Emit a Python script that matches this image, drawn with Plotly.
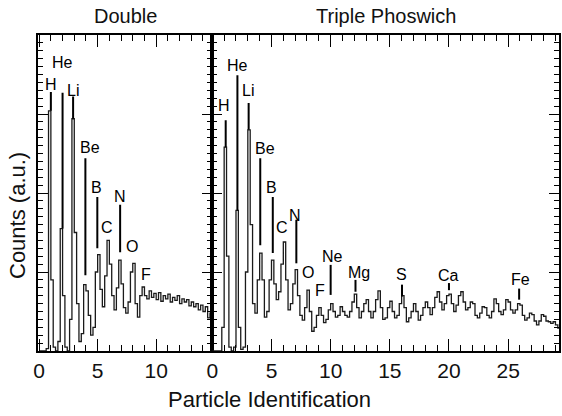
import plotly.graph_objects as go

# ---------------- data ----------------
BIN_WIDTH = 0.2

# Double detector spectrum (bins from 0.0, width 0.2)
double_counts = [
    0.00, 0.00, 0.00, 0.03, 3.04,
    0.90, 0.05, 0.00, 0.12, 1.55,
    0.70, 0.05, 0.00, 0.40, 2.94,
    1.50, 0.60, 0.12, 0.22, 0.84,
    0.76, 0.45, 0.20, 0.30, 1.00,
    1.22, 0.78, 0.56, 0.95, 1.40,
    1.10, 0.70, 0.52, 0.80, 1.15,
    0.85, 0.55, 0.48, 0.62, 1.00,
    1.11, 0.60, 0.43, 0.70, 0.81,
    0.70, 0.66, 0.76, 0.68, 0.73,
    0.65, 0.74, 0.63, 0.70, 0.66,
    0.72, 0.62, 0.68, 0.64, 0.70,
    0.60, 0.66, 0.62, 0.65, 0.57,
    0.62, 0.56, 0.60, 0.52, 0.58,
    0.50, 0.56, 0.42, 0.48,
]

# Triple phoswich spectrum (bins from 0.0, width 0.2)
triple_counts = [
    0.00, 0.00, 0.00, 0.00, 0.30,
    2.58, 1.20, 0.05, 0.00, 0.05,
    1.78, 0.30, 0.02, 0.05, 1.00,
    2.80, 1.60, 0.60, 0.48, 0.90,
    1.24, 0.90, 0.43, 0.50, 0.90,
    1.15, 0.85, 0.65, 0.75, 1.10,
    1.38, 0.90, 0.52, 0.60, 0.85,
    1.03, 0.70, 0.45, 0.39, 0.55,
    0.77, 0.50, 0.25, 0.30, 0.45,
    0.55, 0.45, 0.36, 0.40, 0.52,
    0.60, 0.50, 0.43, 0.45, 0.56,
    0.50, 0.45, 0.43, 0.50, 0.62,
    0.72, 0.55, 0.42, 0.50, 0.60,
    0.65, 0.50, 0.42, 0.50, 0.65,
    0.76, 0.55, 0.40, 0.42, 0.55,
    0.63, 0.50, 0.42, 0.45, 0.60,
    0.70, 0.55, 0.37, 0.42, 0.50,
    0.60, 0.50, 0.39, 0.45, 0.55,
    0.62, 0.55, 0.46, 0.55, 0.68,
    0.75, 0.62, 0.52, 0.60, 0.70,
    0.72, 0.60, 0.50, 0.58, 0.70,
    0.75, 0.62, 0.52, 0.55, 0.62,
    0.60, 0.45, 0.42, 0.48, 0.56,
    0.55, 0.45, 0.42, 0.50, 0.66,
    0.60, 0.50, 0.46, 0.52, 0.65,
    0.62, 0.52, 0.48, 0.52, 0.60,
    0.58, 0.45, 0.39, 0.42, 0.48,
    0.46, 0.38, 0.33, 0.38, 0.46,
    0.44, 0.38, 0.37, 0.35, 0.37,
    0.33, 0.29,
]

# Element markers: name, marker x, marker top, marker bottom (None = label only)
double_marks = [
    ("H", 1.00, 3.28, 3.04), ("He", 2.00, 3.27, 1.55), ("Li", 2.90, 3.22, 2.94),
    ("Be", 3.95, 2.44, 0.96), ("B", 4.97, 1.95, 1.30), ("C", None, None, None),
    ("N", 6.92, 1.85, 1.25), ("O", None, None, None), ("F", None, None, None),
]
double_label_pos = [
    (0.97, 3.37), (2.00, 3.65), (2.92, 3.30), (4.38, 2.57), (4.92, 2.07),
    (5.76, 1.56), (6.95, 1.96), (7.97, 1.32), (9.15, 0.97),
]
triple_marks = [
    ("H", 1.13, 2.92, 2.58), ("He", 2.12, 3.49, 1.78), ("Li", 3.07, 3.14, 2.80),
    ("Be", 4.05, 2.44, 1.34), ("B", 5.11, 1.95, 1.24), ("C", None, None, None),
    ("N", 7.10, 1.66, 1.11), ("O", None, None, None), ("F", None, None, None),
    ("Ne", 10.00, 1.09, 0.71), ("Mg", 12.10, 0.90, 0.75), ("S", 16.03, 0.84, 0.69),
    ("Ca", 20.00, 0.86, 0.77), ("Fe", 25.93, 0.79, 0.65),
]
triple_label_pos = [
    (0.97, 3.11), (2.10, 3.61), (3.00, 3.30), (4.47, 2.56), (5.03, 2.07),
    (5.88, 1.56), (7.00, 1.72), (8.05, 0.99), (9.08, 0.77), (10.15, 1.20),
    (12.40, 1.00), (16.00, 0.97), (20.00, 0.96), (26.05, 0.91),
]

panel_titles = ["Double", "Triple Phoswich"]
x_title = "Particle Identification"
y_title = "Counts (a.u.)"

# ---------------- figure ----------------
FONT = "Liberation Sans, Arial, Helvetica, sans-serif"
W, H = 562, 416
ML, MR, MT, MB = 38, 1, 35, 65
SPLIT = (213 - ML) / (W - ML - MR)
XR1 = [-0.1, 14.8]
XR2 = [0, 29.3]
YR = [0, 4]


def edges(n):
    return [round(i * BIN_WIDTH, 4) for i in range(n + 1)]


x_d = edges(len(double_counts))
y_d = double_counts + [double_counts[-1]]
x_t = edges(len(triple_counts))
y_t = triple_counts + [triple_counts[-1]]

fig = go.Figure()
fig.add_trace(go.Scatter(x=x_d, y=y_d, mode="lines",
                         line=dict(shape="hv", color="#1a1a1a", width=1.3),
                         xaxis="x", yaxis="y", hoverinfo="skip", showlegend=False))
fig.add_trace(go.Scatter(x=x_t, y=y_t, mode="lines",
                         line=dict(shape="hv", color="#1a1a1a", width=1.3),
                         xaxis="x2", yaxis="y2", hoverinfo="skip", showlegend=False))
# invisible copies that only register the mirrored tick axes (top / right)
fig.add_trace(go.Scatter(x=x_d, y=y_d, mode="lines", line=dict(width=0), opacity=0,
                         xaxis="x3", yaxis="y3", hoverinfo="skip", showlegend=False))
fig.add_trace(go.Scatter(x=x_t, y=y_t, mode="lines", line=dict(width=0), opacity=0,
                         xaxis="x4", yaxis="y4", hoverinfo="skip", showlegend=False))

shapes = []
annotations = []
for marks, labels, xr, yr in ((double_marks, double_label_pos, "x", "y"),
                              (triple_marks, triple_label_pos, "x2", "y2")):
    for (name, mx, top, bot), (lx, ly) in zip(marks, labels):
        if mx is not None:
            shapes.append(dict(type="line", xref=xr, yref=yr, x0=mx, x1=mx,
                               y0=bot, y1=top, line=dict(color="black", width=2)))
        annotations.append(dict(text=name, xref=xr, yref=yr, x=lx, y=ly,
                                showarrow=False, xanchor="center", yanchor="middle",
                                font=dict(size=16, color="black", family=FONT)))

annotations.append(dict(text=panel_titles[0], xref="paper", yref="paper",
                        x=SPLIT / 2, xanchor="center", y=1, yanchor="bottom", yshift=6,
                        showarrow=False, font=dict(size=20, color="#111", family=FONT)))
annotations.append(dict(text=panel_titles[1], xref="paper", yref="paper",
                        x=(SPLIT + 1) / 2, xanchor="center", y=1, yanchor="bottom", yshift=6,
                        showarrow=False, font=dict(size=20, color="#111", family=FONT)))
annotations.append(dict(text=x_title, xref="paper", yref="paper",
                        x=(270 - ML) / (W - ML - MR), xanchor="center",
                        y=0, yanchor="middle", yshift=-48,
                        showarrow=False, font=dict(size=22, color="#111", family=FONT)))
annotations.append(dict(text=y_title, xref="paper", yref="paper", textangle=-90,
                        x=0, xanchor="center", xshift=-20,
                        y=(H - MB - 216) / (H - MT - MB), yanchor="middle",
                        showarrow=False, font=dict(size=22, color="#111", family=FONT)))

x_ticks = dict(ticks="inside", ticklen=12, tickwidth=1.2, tickcolor="black",
               tick0=0, dtick=5, showgrid=False, zeroline=False,
               minor=dict(dtick=1, ticklen=6, tickwidth=1, ticks="inside",
                          tickcolor="black", showgrid=False))
y_ticks = dict(ticks="inside", ticklen=10, tickwidth=1.2, tickcolor="black",
               tick0=0, dtick=1, range=YR, showticklabels=False,
               showgrid=False, zeroline=False,
               minor=dict(dtick=0.1, ticklen=5, tickwidth=1, ticks="inside",
                          tickcolor="black", showgrid=False))
frame = dict(showline=True, linecolor="black", linewidth=1.5, mirror=True)
tickfont = dict(size=21, color="#111", family=FONT)

fig.update_layout(
    width=W, height=H,
    margin=dict(l=ML, r=MR, t=MT, b=MB),
    paper_bgcolor="white", plot_bgcolor="white",
    font=dict(family=FONT),
    xaxis=dict(domain=[0, SPLIT], range=XR1, anchor="y", tickfont=tickfont,
               **frame, **x_ticks),
    xaxis2=dict(domain=[SPLIT, 1], range=XR2, anchor="y2", tickfont=tickfont,
                **frame, **x_ticks),
    yaxis=dict(anchor="x", **frame, **y_ticks),
    yaxis2=dict(anchor="x2", **frame, **y_ticks),
    # mirrored tick sets (top and right sides of each panel)
    xaxis3=dict(overlaying="x", side="top", anchor="y", range=XR1,
                showticklabels=False, showline=False, **x_ticks),
    xaxis4=dict(overlaying="x2", side="top", anchor="y2", range=XR2,
                showticklabels=False, showline=False, **x_ticks),
    yaxis3=dict(overlaying="y", side="right", anchor="x", showline=False, **y_ticks),
    yaxis4=dict(overlaying="y2", side="right", anchor="x2", showline=False, **y_ticks),
    shapes=shapes, annotations=annotations,
)

fig.write_html("out.html")
